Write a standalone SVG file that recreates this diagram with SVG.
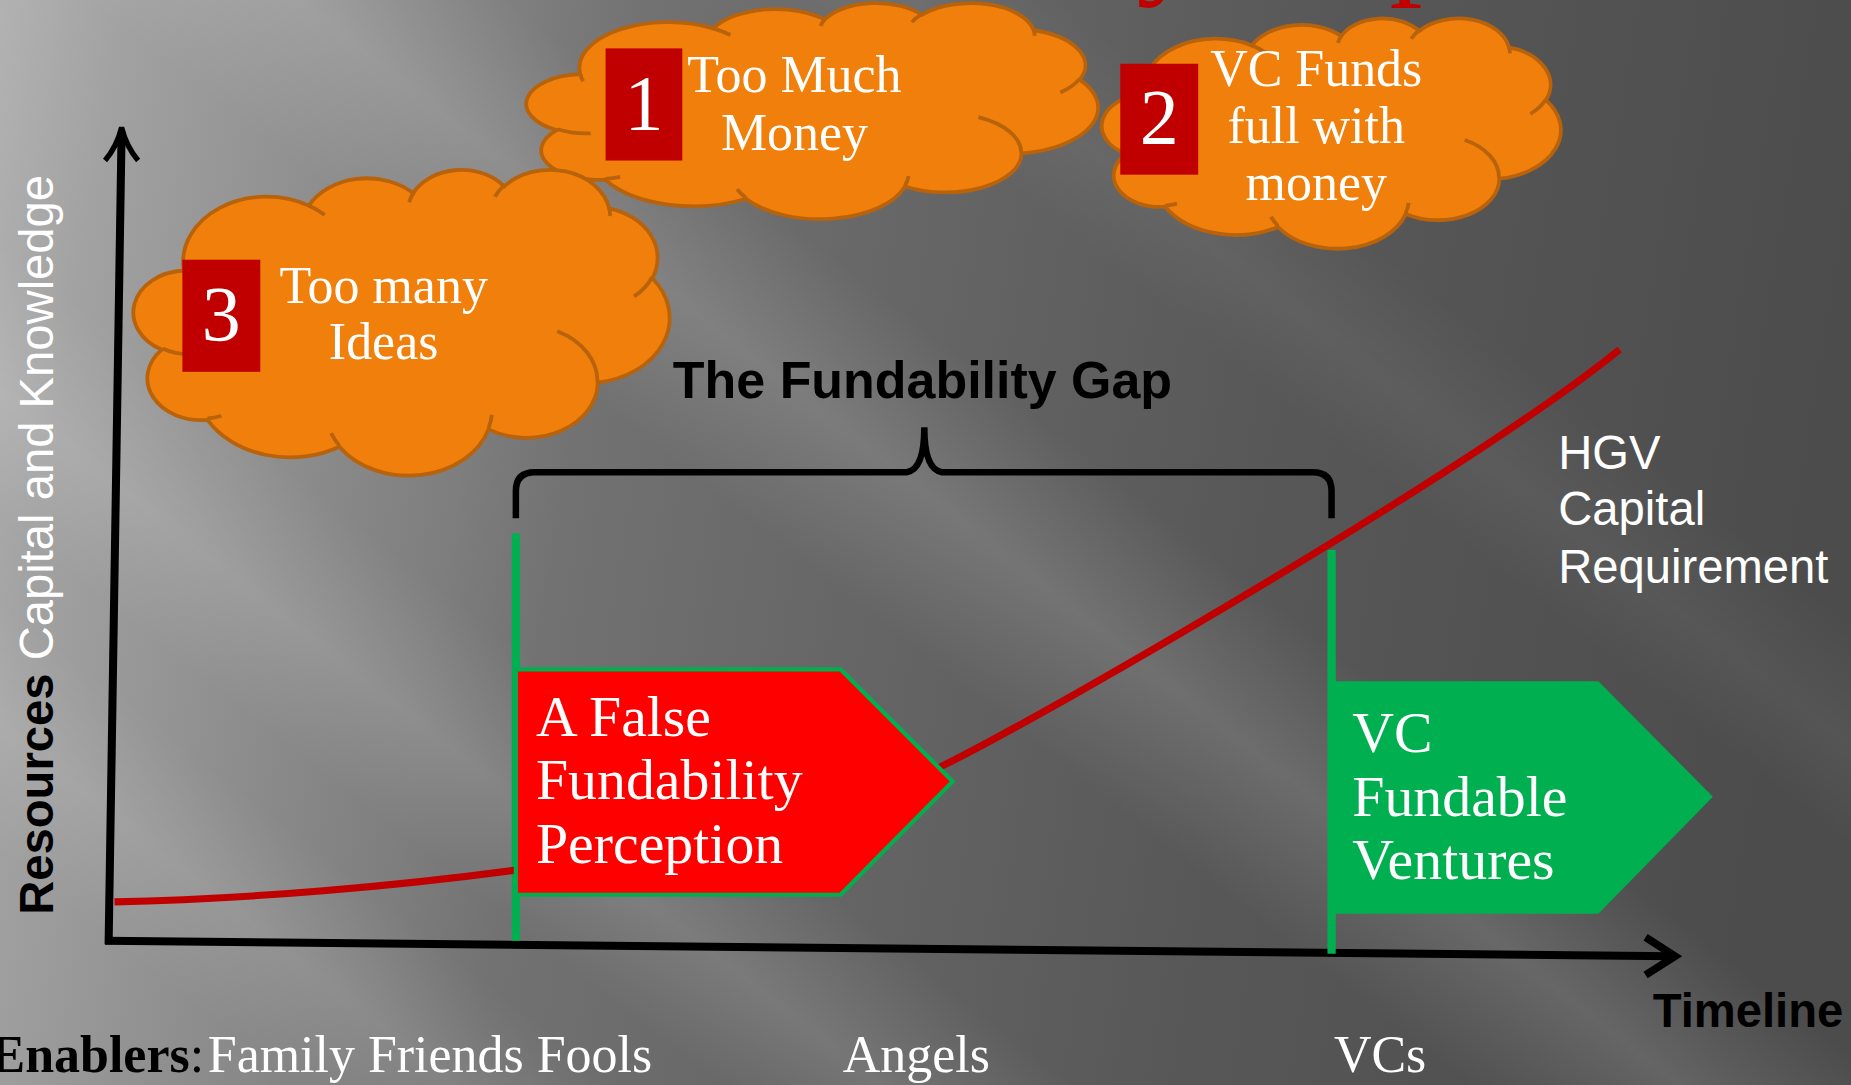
<svg xmlns="http://www.w3.org/2000/svg" xmlns:xlink="http://www.w3.org/1999/xlink" width="1851" height="1085" viewBox="0 0 1851 1085">
<defs>
<linearGradient id="bg" gradientUnits="userSpaceOnUse" x1="0" y1="0" x2="1568" y2="250">
<stop offset="0" stop-color="#b2b2b2"/>
<stop offset="0.065" stop-color="#a2a2a2"/>
<stop offset="0.28" stop-color="#7e7e7e"/>
<stop offset="0.34" stop-color="#727272"/>
<stop offset="0.5" stop-color="#666666"/>
<stop offset="0.7" stop-color="#585858"/>
<stop offset="1" stop-color="#4c4c4c"/>
</linearGradient>
<linearGradient id="streaks" gradientUnits="userSpaceOnUse" x1="0" y1="919" x2="1052.8" y2="-422.4">
<stop offset="0" stop-color="#fff" stop-opacity="0"/>
<stop offset="0.09" stop-color="#fff" stop-opacity="0"/>
<stop offset="0.14" stop-color="#fff" stop-opacity="0.1"/>
<stop offset="0.19" stop-color="#fff" stop-opacity="0"/>
<stop offset="0.22" stop-color="#fff" stop-opacity="0"/>
<stop offset="0.27" stop-color="#fff" stop-opacity="0.12"/>
<stop offset="0.33" stop-color="#fff" stop-opacity="0"/>
<stop offset="0.45" stop-color="#fff" stop-opacity="0"/>
<stop offset="0.515" stop-color="#fff" stop-opacity="0.13"/>
<stop offset="0.58" stop-color="#fff" stop-opacity="0"/>
<stop offset="0.66" stop-color="#fff" stop-opacity="0"/>
<stop offset="0.70" stop-color="#fff" stop-opacity="0.05"/>
<stop offset="0.75" stop-color="#fff" stop-opacity="0"/>
<stop offset="1" stop-color="#fff" stop-opacity="0"/>
</linearGradient>
<path id="cloudShape" vector-effect="non-scaling-stroke" d="M9.03,33.26 A15.63,21.27 0 0 1 32.42,12.04 A12.34,16.82 0 0 1 51.99,7.95 A10.10,13.76 0 0 1 69.06,5.75 A11.24,15.27 0 0 1 88.71,12.91 A12.34,16.84 0 0 1 96.81,35.79 A15.68,21.34 0 0 1 86.59,69.92 A13.39,18.21 0 0 1 66.11,85.22 A15.63,21.33 0 0 1 38.16,90.90 A17.87,24.41 0 0 1 13.44,82.11 A10.09,13.70 0 0 1 4.89,59.15 A10.06,13.76 0 0 1 9.03,33.26 Z"/>
<path id="cloudInner" vector-effect="non-scaling-stroke" fill="none" d="M10.86,60.60 A10.06,13.76 0 0 1 5.00,58.75 M16.04,80.78 A10.09,13.70 0 0 1 13.47,81.67 M38.14,90.49 A15.63,21.33 0 0 1 36.60,86.46 M66.73,80.44 A15.63,21.33 0 0 1 66.11,84.86 M79.00,53.13 A13.39,18.21 0 0 1 86.53,69.65 M96.75,35.54 A12.34,16.84 0 0 1 93.40,41.74 M88.71,12.56 A11.24,15.27 0 0 1 88.89,15.48 M67.31,9.15 A11.24,15.27 0 0 1 69.03,5.42 M51.25,10.93 A10.10,13.76 0 0 1 52.08,7.71 M32.41,12.02 A15.63,21.27 0 0 1 35.42,15.14 M9.55,36.55 A15.63,21.27 0 0 1 9.03,33.26"/>
<style>
.cloud{fill:#f0800b;stroke:#b8620c;stroke-width:3.8}
.cloudline{fill:none;stroke:#b8620c;stroke-width:3.8}
.numbox{fill:#c00000}
.num{font-family:"Liberation Serif",serif;font-size:66px;fill:#fff;text-anchor:middle}
.ctext{font-family:"Liberation Serif",serif;font-size:44px;fill:#fff;text-anchor:middle}
.atext{font-family:"Liberation Serif",serif;font-size:49px;fill:#fff}
.btext{font-family:"Liberation Serif",serif;font-size:44px;fill:#fff}
.sans{font-family:"Liberation Sans",Arial,sans-serif}
.axis{fill:none;stroke:#000;stroke-width:6.8}
.green{fill:none;stroke:#00b050;stroke-width:7}
</style>
</defs>
<g transform="scale(1.18048)">
<rect x="0" y="0" width="1570" height="922" fill="url(#bg)"/>
<rect x="0" y="0" width="1570" height="922" fill="url(#streaks)"/>
<text x="300" y="-17" font-family="Liberation Serif, serif" font-size="112" fill="#c00000">The Fundability Gap</text>

<g id="axes">
<path class="axis" d="M92,800 L103,112"/>
<path fill="none" stroke="#000" stroke-width="4.5" stroke-linejoin="miter" d="M89,136 Q99,124 103,108 Q107,124 117,136"/>
<path class="axis" d="M89,797 L1418,810"/>
<path fill="none" stroke="#000" stroke-width="6.5" stroke-linejoin="miter" d="M1394,794 L1419,810 L1394,826"/>
<text class="sans" transform="translate(45,775) rotate(-90)" font-size="40"><tspan font-weight="bold" fill="#000">Resources</tspan><tspan fill="#fff"> Capital and Knowledge</tspan></text>
<text class="sans" x="1400" y="870" font-size="40" font-weight="bold" fill="#000">Timeline</text>
</g>

<g id="connectors">
<path class="green" d="M437,452 V797"/>
<path class="green" d="M1128,466 V808"/>
<path fill="none" stroke="#c00000" stroke-width="6" d="M97,764 C300,760 650,723 800,648 C900,598 1250,395 1372,296"/>
<path fill="none" stroke="#000" stroke-width="5.5" d="M437,439 V416 Q437,400 453,400 H768 Q783,398 783,362 Q783,398 798,400 H1112 Q1128,400 1128,416 V439"/>
</g>

<g id="gap-label">
<text class="sans" x="570" y="337" font-size="44" font-weight="bold" fill="#000">The Fundability Gap</text>
</g>

<g id="hgv-label">
<text class="sans" font-size="40" fill="#fff"><tspan x="1320" y="397">HGV</tspan><tspan x="1320" y="445">Capital</tspan><tspan x="1320" y="494">Requirement</tspan></text>
</g>

<g id="false-perception">
<path d="M437,567 L712,567 L807,662 L712,758 L437,758 Z" fill="#ff0000" stroke="#00b050" stroke-width="3.5"/>
<text class="atext"><tspan x="454" y="623.5">A False</tspan><tspan x="454" y="677">Fundability</tspan><tspan x="454" y="731">Perception</tspan></text>
</g>

<g id="vc-fundable">
<path d="M1128,577 L1354,577 L1451,675 L1354,774 L1128,774 Z" fill="#00b050"/>
<text class="atext"><tspan x="1145.5" y="637">VC</tspan><tspan x="1145.5" y="691">Fundable</tspan><tspan x="1145.5" y="745">Ventures</tspan></text>
</g>

<g id="cloud1">
<use xlink:href="#cloudShape" class="cloud" transform="translate(448,2) scale(4.82,1.83)"/>
<use xlink:href="#cloudInner" class="cloudline" transform="translate(448,2) scale(4.82,1.83)"/>
<rect class="numbox" x="513" y="41" width="65" height="95"/>
<text class="num" x="545.5" y="109">1</text>
<text class="ctext"><tspan x="673" y="78">Too Much</tspan><tspan x="673" y="127">Money</tspan></text>
</g>

<g id="cloud2">
<use xlink:href="#cloudShape" class="cloud" transform="translate(935,15) scale(3.87,1.95)"/>
<use xlink:href="#cloudInner" class="cloudline" transform="translate(935,15) scale(3.87,1.95)"/>
<rect class="numbox" x="949" y="54" width="66" height="94"/>
<text class="num" x="982" y="121.5">2</text>
<text class="ctext"><tspan x="1115" y="73">VC Funds</tspan><tspan x="1115" y="121">full with</tspan><tspan x="1115" y="169.5">money</tspan></text>
</g>

<g id="cloud3">
<use xlink:href="#cloudShape" class="cloud" transform="translate(115,143) scale(4.52,2.59)"/>
<use xlink:href="#cloudInner" class="cloudline" transform="translate(115,143) scale(4.52,2.59)"/>
<rect class="numbox" x="154.5" y="220" width="66" height="95"/>
<text class="num" x="187.5" y="288">3</text>
<text class="ctext"><tspan x="325" y="256.5">Too many</tspan><tspan x="325" y="304">Ideas</tspan></text>
</g>

<g id="enablers">
<text class="btext" y="908"><tspan x="-8" font-weight="bold" fill="#000">Enablers</tspan><tspan fill="#000">:</tspan><tspan x="176">Family Friends Fools</tspan></text>
<text class="btext" x="714" y="908">Angels</text>
<text class="btext" x="1130" y="908">VCs</text>
</g>
</g>
</svg>
